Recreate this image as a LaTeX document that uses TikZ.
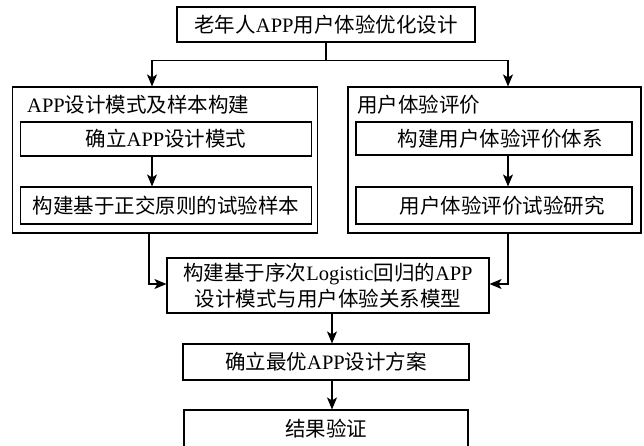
\documentclass[tikz,border=0pt]{standalone}
\usepackage{fontspec}
\setmainfont{Liberation Serif}
\newfontfamily\cjk{Noto Sans CJK SC}
\newcommand\zh[1]{{\cjk #1}}
\usetikzlibrary{arrows.meta}
\begin{document}
\begin{tikzpicture}[x=1pt,y=-1pt,
  box/.style={draw=black,line width=1.1pt,inner sep=0pt,align=center,font=\fontsize{20.5}{26}\selectfont},
  ttl/.style={inner sep=0pt,anchor=west,font=\fontsize{20.5}{26}\selectfont},
  arr/.style={line width=1.1pt,-{Stealth[length=12pt,width=10pt,inset=3pt]}},
  ln/.style={line width=1.1pt}]
\useasboundingbox (0,0) rectangle (644,446);
\clip (0,0) rectangle (644,446);
\fill[white] (0,0) rectangle (644,446);
% top
\node[box,minimum width=298pt,minimum height=35pt] (top) at (326,24.5) {\zh{老年人}APP\zh{用户体验优化设计}};
% left group
\node[box,minimum width=305pt,minimum height=146pt] (lbig) at (165.4,160) {};
\node[ttl] (ltitle) at (27,105) {APP\zh{设计模式及样本构建}};
\node[box,minimum width=291pt,minimum height=34pt] (l1) at (166,139) {\zh{确立}APP\zh{设计模式}};
\node[box,minimum width=291pt,minimum height=37pt] (l2) at (166,205.5) {\zh{构建基于正交原则的试验样本}};
% right group
\node[box,minimum width=293pt,minimum height=146pt] (rbig) at (494.5,160) {};
\node[ttl] (rtitle) at (357,105) {\zh{用户体验评价}};
\node[box,minimum width=276pt,minimum height=33pt] (r1) at (494,138.5) {\hspace*{12pt}\zh{构建用户体验评价体系}};
\node[box,minimum width=276pt,minimum height=37pt] (r2) at (494,205.5) {\hspace*{16pt}\zh{用户体验评价试验研究}};
% middle
\node[box,minimum width=322pt,minimum height=55pt] (mid) at (328,285.5) {\zh{构建基于序次}Logistic\zh{回归的}APP\\\zh{设计模式与用户体验关系模型}};
\node[box,minimum width=286pt,minimum height=36pt] (opt) at (326,362) {\zh{确立最优}APP\zh{设计方案}};
\node[box,minimum width=284pt,minimum height=38pt] (res) at (326,429) {\zh{结果验证}};
% connectors
\draw[ln] (top.south) -- ++(0,18) coordinate (j);
\draw[arr] (j) -| ([xshift=-13.4pt]lbig.north);
\draw[arr] (j) -| ([xshift=13.5pt]rbig.north);
\draw[arr] ([xshift=-14pt]l1.south) -- ([xshift=-14pt]l2.north);
\draw[arr] ([xshift=14pt]r1.south) -- ([xshift=14pt]r2.north);
\draw[arr] ([xshift=-16.4pt]lbig.south) |- ([yshift=1.5pt]mid.west);
\draw[arr] ([xshift=13.5pt]rbig.south) |- ([yshift=1.5pt]mid.east);
\draw[arr] ([xshift=4pt]mid.south) -- ([xshift=4pt]mid.south |- opt.north);
\draw[arr] ([xshift=6pt]opt.south) -- ([xshift=6pt]opt.south |- res.north);
\end{tikzpicture}
\end{document}
